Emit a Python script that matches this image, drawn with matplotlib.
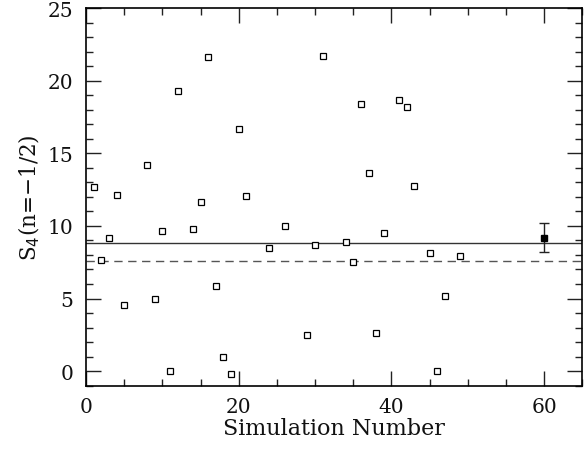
import matplotlib
matplotlib.use("Agg")
import matplotlib.pyplot as plt
from matplotlib.ticker import MultipleLocator

sim_x = [1, 2, 3, 4, 5, 8, 9, 10, 11, 12, 14, 15, 16, 17, 18, 19, 20, 21,
         24, 26, 29, 30, 31, 34, 35, 36, 37, 38, 39, 41, 42, 43, 45, 46, 47, 49]
sim_y = [12.65, 7.64, 9.2, 12.13, 4.53, 14.19, 4.94, 9.66, 0.0, 19.29, 9.82, 11.65,
         21.62, 5.88, 0.99, -0.2, 16.66, 12.04,
         8.47, 10.0, 2.47, 8.67, 21.69, 8.86, 7.53, 18.37, 13.62, 2.66, 9.5,
         18.7, 18.17, 12.77, 8.12, 0.0, 5.2, 7.92]
mean_x = [60]
mean_y = [9.2]
mean_err = [1.02]
solid_level = 8.81
dashed_level = 7.55

plt.rcParams['font.family'] = ['DejaVu Serif']
fig = plt.figure(figsize=(5.87, 4.52), dpi=100)
ax = fig.add_axes([0.1465, 0.1445, 0.8455, 0.8355])

ax.axhline(solid_level, color='#333333', lw=1.0, zorder=1)
ax.axhline(dashed_level, color='#555555', lw=1.0, dashes=(6, 4), zorder=1)
ax.plot(sim_x, sim_y, ls='none', marker='s', ms=5, mfc='white', mec='black', mew=0.9, zorder=3)
ax.errorbar(mean_x, mean_y, yerr=mean_err, fmt='s', ms=4.5, color='black', ecolor='#222222',
            elinewidth=1.0, capsize=3.5, capthick=1.0, zorder=3)

ax.set_xlim(0, 65)
ax.set_ylim(-1, 25)
ax.xaxis.set_major_locator(MultipleLocator(20))
ax.xaxis.set_minor_locator(MultipleLocator(5))
ax.yaxis.set_major_locator(MultipleLocator(5))
ax.yaxis.set_minor_locator(MultipleLocator(1))
ax.tick_params(which='both', direction='in', top=True, right=True, width=1.0, color='#222222')
ax.tick_params(which='major', length=10.5, labelsize=14.5, labelcolor='#111111')
ax.tick_params(axis='x', which='major', pad=8)
ax.tick_params(axis='y', which='major', pad=9)
ax.tick_params(which='minor', length=5)
for s in ax.spines.values():
    s.set_linewidth(1.2)

ax.set_xlabel('Simulation Number', fontsize=16, labelpad=1, color='#111111')
ax.set_ylabel(r'S$_4$(n=$-$1/2)', fontsize=15.5, labelpad=4, color='#111111')

fig.savefig('out.png', dpi=100)
